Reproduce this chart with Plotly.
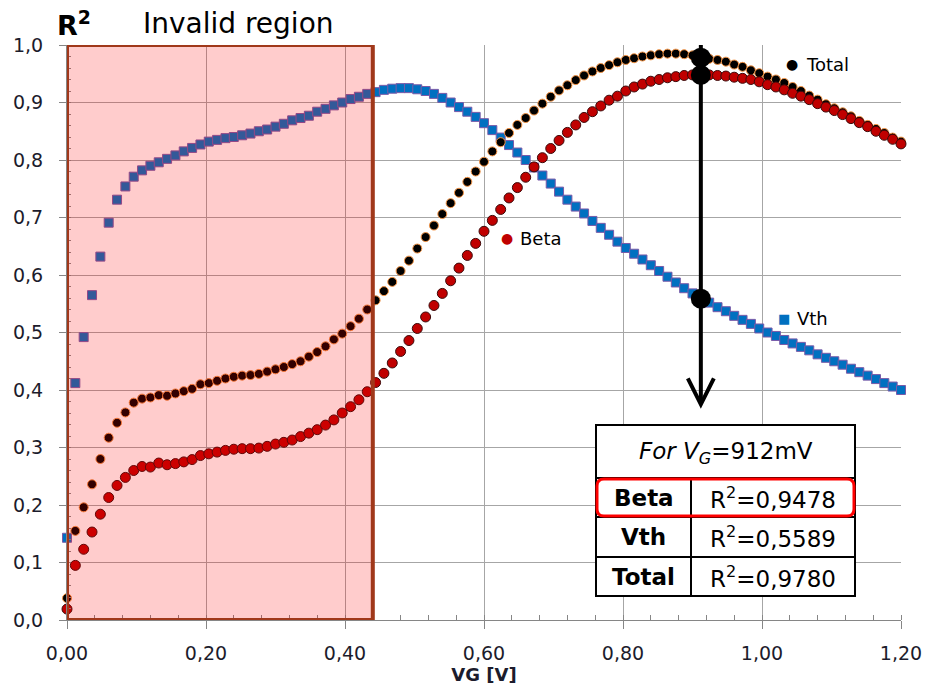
import plotly.graph_objects as go

# ---------------- data ----------------
VG = [round(i * 0.012, 3) for i in range(101)]  # sweep grid, 12 mV step

VTH = [0.143, 0.412, 0.492, 0.565, 0.632, 0.691, 0.731, 0.754, 0.771, 0.782,
       0.790, 0.796, 0.802, 0.808, 0.815, 0.821, 0.827, 0.832, 0.835, 0.838,
       0.840, 0.843, 0.846, 0.850, 0.853, 0.858, 0.863, 0.869, 0.873, 0.877,
       0.884, 0.889, 0.895, 0.900, 0.906, 0.910, 0.915, 0.918, 0.922, 0.924,
       0.925, 0.925, 0.923, 0.920, 0.915, 0.908, 0.900, 0.892, 0.884, 0.875,
       0.864, 0.852, 0.839, 0.826, 0.813, 0.800, 0.787, 0.773, 0.759, 0.745,
       0.731, 0.719, 0.707, 0.694, 0.682, 0.670, 0.658, 0.647, 0.637, 0.627,
       0.617, 0.607, 0.597, 0.587, 0.577, 0.568, 0.559, 0.552, 0.544, 0.537,
       0.529, 0.522, 0.515, 0.507, 0.500, 0.494, 0.487, 0.481, 0.475, 0.469,
       0.462, 0.456, 0.450, 0.444, 0.437, 0.431, 0.425, 0.419, 0.412, 0.406,
       0.400]

TOTAL = [0.038, 0.155, 0.196, 0.236, 0.280, 0.317, 0.343, 0.361, 0.378, 0.385,
         0.387, 0.391, 0.390, 0.394, 0.398, 0.402, 0.410, 0.412, 0.416, 0.420,
         0.423, 0.425, 0.426, 0.428, 0.432, 0.436, 0.440, 0.445, 0.450, 0.458,
         0.466, 0.476, 0.488, 0.498, 0.511, 0.524, 0.540, 0.556, 0.572, 0.588,
         0.607, 0.625, 0.646, 0.666, 0.686, 0.706, 0.725, 0.743, 0.762, 0.780,
         0.797, 0.815, 0.831, 0.847, 0.861, 0.873, 0.886, 0.898, 0.910, 0.921,
         0.930, 0.939, 0.947, 0.954, 0.960, 0.965, 0.970, 0.974, 0.977, 0.980,
         0.982, 0.984, 0.985, 0.985, 0.984, 0.982, 0.978, 0.976, 0.974, 0.971,
         0.966, 0.962, 0.956, 0.951, 0.945, 0.940, 0.934, 0.927, 0.920, 0.912,
         0.905, 0.897, 0.890, 0.883, 0.876, 0.868, 0.861, 0.854, 0.847, 0.839,
         0.832]

BETA = [0.019, 0.095, 0.123, 0.153, 0.184, 0.213, 0.234, 0.248, 0.260, 0.267,
        0.266, 0.273, 0.270, 0.272, 0.275, 0.279, 0.286, 0.289, 0.292, 0.295,
        0.297, 0.298, 0.298, 0.299, 0.302, 0.306, 0.309, 0.313, 0.319, 0.325,
        0.331, 0.339, 0.348, 0.360, 0.371, 0.383, 0.397, 0.413, 0.429, 0.447,
        0.467, 0.486, 0.507, 0.527, 0.547, 0.568, 0.590, 0.612, 0.634, 0.655,
        0.676, 0.695, 0.714, 0.734, 0.752, 0.770, 0.788, 0.804, 0.820, 0.834,
        0.848, 0.861, 0.874, 0.884, 0.894, 0.904, 0.911, 0.920, 0.927, 0.932,
        0.937, 0.940, 0.943, 0.945, 0.947, 0.948, 0.948, 0.948, 0.947, 0.946,
        0.944, 0.942, 0.940, 0.936, 0.931, 0.927, 0.922, 0.916, 0.911, 0.905,
        0.898, 0.892, 0.886, 0.879, 0.872, 0.865, 0.858, 0.850, 0.843, 0.836,
        0.828]

VG_SEL = 0.912                       # V
SEL_NAMES = ["Beta", "Vth", "Total"]
SEL_R2 = [0.9478, 0.5589, 0.9780]

INVALID_X = [0.0, 0.44]

X_TICKS = [0.0, 0.2, 0.4, 0.6, 0.8, 1.0, 1.2]
X_TICK_TEXT = ["0,00", "0,20", "0,40", "0,60", "0,80", "1,00", "1,20"]
Y_TICKS = [0.0, 0.1, 0.2, 0.3, 0.4, 0.5, 0.6, 0.7, 0.8, 0.9, 1.0]
Y_TICK_TEXT = ["0,0", "0,1", "0,2", "0,3", "0,4", "0,5", "0,6", "0,7", "0,8", "0,9", "1,0"]

# ---------------- layout helpers (pixel -> paper) ----------------
W, H = 926, 691
L, R, T, B = 67, 25, 45, 71
PW, PH = W - L - R, H - T - B


def px(x):
    return (x - L) / PW


def py(y):
    return (H - B - y) / PH


FONT = "DejaVu Sans"
GRID = "#A6A6A6"
AX = "#868686"

fig = go.Figure()

fig.add_trace(go.Scatter(
    x=VG, y=VTH, mode="markers", name="Vth", cliponaxis=False,
    marker=dict(symbol="square", size=9, color="#0070C0",
                line=dict(color="#7A5AA8", width=1))))
fig.add_trace(go.Scatter(
    x=VG, y=TOTAL, mode="markers", name="Total", cliponaxis=False,
    marker=dict(symbol="circle", size=9, color="#000000",
                line=dict(color="#F79646", width=1))))
fig.add_trace(go.Scatter(
    x=VG, y=BETA, mode="markers", name="Beta", cliponaxis=False,
    marker=dict(symbol="circle", size=10, color="#C00000",
                line=dict(color="#3C0A0A", width=1))))
fig.add_trace(go.Scatter(
    x=[VG_SEL] * len(SEL_R2), y=SEL_R2, mode="markers", cliponaxis=False,
    marker=dict(symbol="circle", size=20, color="#000000")))

shapes = []
# invalid region (semi-transparent, above data)
shapes.append(dict(type="rect", xref="x", yref="y", x0=INVALID_X[0], x1=INVALID_X[1],
                   y0=0, y1=1, layer="above", fillcolor="rgba(255,0,0,0.2)",
                   line=dict(color="#A0381A", width=4)))
# arrow
tip = 0.375
shapes.append(dict(type="line", xref="x", yref="y", x0=VG_SEL, x1=VG_SEL,
                   y0=1.003, y1=tip + 0.004, layer="above",
                   line=dict(color="#000000", width=4)))
ax_dx, ax_dy = 13 / PW * 1.2, 26 / PH
shapes.append(dict(type="path", xref="x", yref="y", layer="above",
                   path=f"M {VG_SEL - ax_dx},{tip + ax_dy} L {VG_SEL},{tip} L {VG_SEL + ax_dx},{tip + ax_dy}",
                   line=dict(color="#000000", width=4)))

# table
TL, TRt, TD = 596, 855, 691
TT, TH1, TH2, TH3, TB = 425, 478, 517, 557, 596
shapes.append(dict(type="rect", xref="paper", yref="paper", x0=px(TL), x1=px(TRt),
                   y0=py(TB), y1=py(TT), layer="above", fillcolor="white",
                   line=dict(color="black", width=2)))
for yy in (TH1, TH2, TH3):
    shapes.append(dict(type="line", xref="paper", yref="paper", x0=px(TL), x1=px(TRt),
                       y0=py(yy), y1=py(yy), layer="above", line=dict(color="black", width=2)))
shapes.append(dict(type="line", xref="paper", yref="paper", x0=px(TD), x1=px(TD),
                   y0=py(TB), y1=py(TH1), layer="above", line=dict(color="black", width=2)))
# red rounded highlight around Beta row
rx0, rx1, ry0, ry1, rr = 597, 854, 479, 516, 7
p = (f"M {px(rx0 + rr)},{py(ry0)} L {px(rx1 - rr)},{py(ry0)} "
     f"Q {px(rx1)},{py(ry0)} {px(rx1)},{py(ry0 + rr)} L {px(rx1)},{py(ry1 - rr)} "
     f"Q {px(rx1)},{py(ry1)} {px(rx1 - rr)},{py(ry1)} L {px(rx0 + rr)},{py(ry1)} "
     f"Q {px(rx0)},{py(ry1)} {px(rx0)},{py(ry1 - rr)} L {px(rx0)},{py(ry0 + rr)} "
     f"Q {px(rx0)},{py(ry0)} {px(rx0 + rr)},{py(ry0)} Z")
shapes.append(dict(type="path", xref="paper", yref="paper", path=p, layer="above",
                   line=dict(color="#FF0000", width=3)))

ann = []


def text(x, y, s, size, color="#000000", xanchor="center"):
    ann.append(dict(x=px(x), y=py(y), xref="paper", yref="paper", text=s, showarrow=False,
                    xanchor=xanchor, yanchor="middle",
                    font=dict(family=FONT, size=size, color=color)))


text(74, 23, "<b>R<sup>2</sup></b>", 27)
text(238, 23, "Invalid region", 28)

# in-chart series labels
text(792, 64, "●", 14)
text(804, 64, "Total", 18, xanchor="left")
text(507, 238, "●", 14, color="#C00000")
text(518, 238, "Beta", 18, xanchor="left")
text(784, 318, "■", 13, color="#0070C0")
text(795, 318, "Vth", 18, xanchor="left")

# table text
text((TL + TRt) / 2, (TT + TH1) / 2 + 1,
     f"<i>For V<sub>G</sub></i>={int(round(VG_SEL * 1000))}mV", 23)
row_c = [(TH1 + TH2) / 2, (TH2 + TH3) / 2, (TH3 + TB) / 2]
for name, r2, yc in zip(SEL_NAMES, SEL_R2, row_c):
    text((TL + TD) / 2, yc, f"<b>{name}</b>", 23)
    text((TD + TRt) / 2, yc, "R<sup>2</sup>=" + f"{r2:.4f}".replace(".", ","), 23)

fig.update_layout(
    width=W, height=H, autosize=False,
    margin=dict(l=L, r=R, t=T, b=B, pad=0),
    paper_bgcolor="white", plot_bgcolor="white",
    showlegend=False,
    font=dict(family=FONT, color="#1C1C2C"),
    shapes=shapes, annotations=ann,
    xaxis=dict(range=[0, 1.2], tickmode="array", tickvals=X_TICKS, ticktext=X_TICK_TEXT,
               automargin=False,
               showgrid=True, gridcolor=GRID, gridwidth=1, zeroline=False,
               showline=True, linecolor=AX, linewidth=1,
               ticks="outside", ticklen=8, tickcolor=AX, tickwidth=1,
               ticklabelstandoff=8,
               minor=dict(tickmode="linear", tick0=0, dtick=0.04, ticks="inside",
                          ticklen=5, tickcolor=AX, showgrid=False),
               tickfont=dict(family=FONT, size=19, color="#1C1C2C"),
               title=dict(text="<b>VG [V]</b>", standoff=4,
                          font=dict(family=FONT, size=18, color="#1C1C2C"))),
    yaxis=dict(range=[0, 1], tickmode="array", tickvals=Y_TICKS, ticktext=Y_TICK_TEXT,
               automargin=False,
               showgrid=True, gridcolor=GRID, gridwidth=1, zeroline=False,
               showline=True, linecolor=AX, linewidth=1,
               ticks="outside", ticklen=7, tickcolor=AX, tickwidth=1,
               ticklabelstandoff=12,
               minor=dict(tickmode="linear", tick0=0, dtick=0.02, ticks="inside",
                          ticklen=4, tickcolor=AX, showgrid=False),
               tickfont=dict(family=FONT, size=19, color="#1C1C2C")),
)

fig.write_html("out.html")
